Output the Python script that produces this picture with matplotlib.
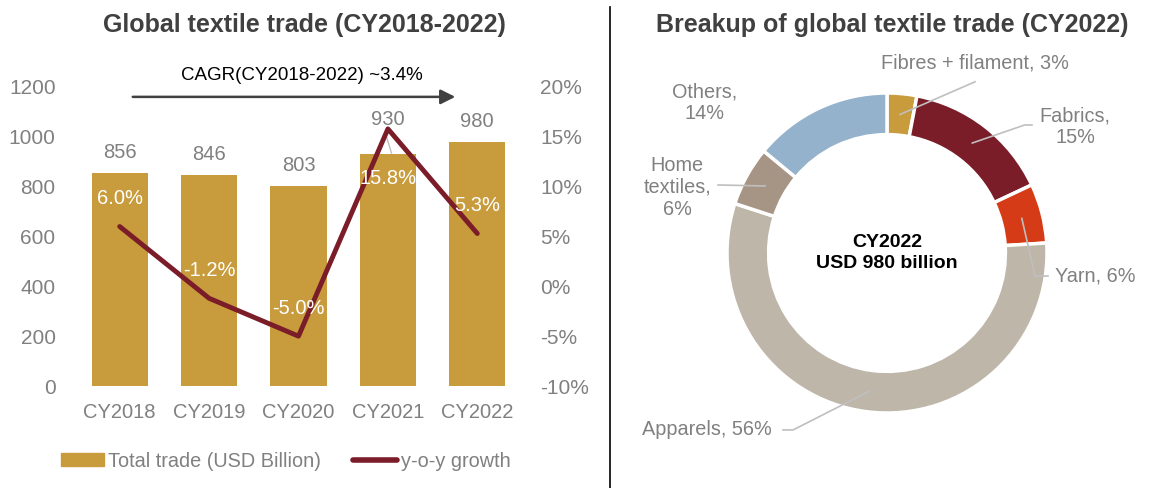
import numpy as np
import matplotlib
matplotlib.use("Agg")
from matplotlib import pyplot as plt
from matplotlib.lines import Line2D

plt.rcParams['font.family'] = ['Liberation Sans', 'DejaVu Sans']

# Datos
years = ['CY2018', 'CY2019', 'CY2020', 'CY2021', 'CY2022']
trade = [856, 846, 803, 930, 980]
growth = [6.0, -1.2, -5.0, 15.8, 5.3]

segments = ['Fibres + filament', 'Fabrics', 'Yarn', 'Apparels', 'Home\ntextiles', 'Others']
shares = [3, 15, 6, 56, 6, 14]

gold = '#C89B3C'
maroon = '#7B1C29'
gray = '#808080'
seg_colors = ['#C89B3C', '#7B1C29', '#D53B16', '#BFB6AA', '#A69584', '#94B2CC']

fig = plt.figure(figsize=(11.75, 4.88), dpi=100)

# ---- Grafico izquierdo: barras + linea ----
ax = fig.add_axes([75/1175, 102/488, 447/1175, 299/488])
x = np.arange(len(years))
ax.bar(x, trade, width=0.63, color=gold)
ax.set_xlim(-0.5, 4.5)
ax.set_ylim(0, 1200)
ax.set_yticks(range(0, 1201, 200))
ax.set_xticks(x)
ax.set_xticklabels(years)
ax.tick_params(axis='y', length=0, pad=14, labelsize=15, labelcolor=gray)
ax.tick_params(axis='x', length=0, pad=12, labelsize=14.5, labelcolor=gray)
for s in ax.spines.values():
    s.set_visible(False)

label_off = [8, 8, 8, 18, 8]
for xi, v, off in zip(x, trade, label_off):
    ax.annotate(str(v), (xi, v), xytext=(0, off), textcoords='offset points',
                ha='center', va='bottom', fontsize=14.5, color=gray)
# pequeña guia para 930
ax.plot([x[3] - 0.02, x[3] + 0.04], [trade[3] + 75, trade[3] + 5], color='#BFBFBF', lw=1)

ax2 = ax.twinx()
ax2.plot(x, growth, color=maroon, lw=3.5, solid_capstyle='round')
ax2.set_ylim(-10, 20)
ax2.set_yticks(range(-10, 21, 5))
ax2.set_yticklabels([f'{t}%' for t in range(-10, 21, 5)])
ax2.tick_params(axis='y', length=0, pad=13, labelsize=15, labelcolor=gray)
for s in ax2.spines.values():
    s.set_visible(False)

g_off = [20, 20, 20, -36, 20]
for xi, g, off in zip(x, growth, g_off):
    ax2.annotate(f'{g:.1f}%', (xi, g), xytext=(0, off), textcoords='offset points',
                 ha='center', va='center', fontsize=14.5, color='white')

ax.annotate('', xy=(0.857, 0.967), xytext=(0.123, 0.967), xycoords='axes fraction',
            arrowprops=dict(arrowstyle='-|>', color='#404040', lw=1.8, mutation_scale=22))
ax.text(0.508, 1.037, 'CAGR(CY2018-2022) ~3.4%', transform=ax.transAxes,
        ha='center', va='center', fontsize=13.5, color='black')

fig.text(0.259, 0.949, 'Global textile trade (CY2018-2022)', ha='center', va='center',
         fontsize=18, fontweight='bold', color='#404040')

handles = [plt.Rectangle((0, 0), 1, 1, color=gold),
           Line2D([0], [0], color=maroon, lw=4, solid_capstyle='round')]
leg = fig.legend(handles, ['Total trade (USD Billion)', 'y-o-y growth'],
                 loc='center', bbox_to_anchor=(0.243, 0.055), ncol=2, frameon=False,
                 fontsize=14.3, handlelength=2.2, handleheight=0.6, handletextpad=0.2,
                 columnspacing=1.6)
for t in leg.get_texts():
    t.set_color(gray)

# linea divisoria
fig.add_artist(Line2D([610/1175, 610/1175], [0, 0.985], color='black', lw=1.2))

# ---- Grafico derecho: dona ----
axp = fig.add_axes([(887 - 200)/1175, (235 - 200)/488, 400/1175, 400/488])
wedges, _ = axp.pie(shares, colors=seg_colors, startangle=90, counterclock=False,
                    wedgeprops=dict(width=0.26, edgecolor='white', linewidth=2.5))
axp.set_xlim(-1.25, 1.25)
axp.set_ylim(-1.25, 1.25)
axp.axis('off')

axp.text(0, 0, 'CY2022\nUSD 980 billion', ha='center', va='center', fontsize=14,
         fontweight='bold', color='black', linespacing=1.3)

# punto ancla de cada segmento (radio medio del anillo)
anchors = []
for w in wedges:
    ang = np.deg2rad((w.theta1 + w.theta2) / 2)
    anchors.append((0.87 * np.cos(ang), 0.87 * np.sin(ang)))

lc = '#BFBFBF'
fs = 14.3
lab = [f'{s}, {v}%' for s, v in zip(segments, shares)]
# Fibres
axp.plot([0.55, anchors[0][0]], [1.07, anchors[0][1]], color=lc, lw=1.2)
axp.text(0.55, 1.19, lab[0], ha='center', va='center', fontsize=fs, color=gray)
# Fabrics
axp.plot([0.906, 0.86, anchors[1][0]], [0.80, 0.80, anchors[1][1]], color=lc, lw=1.2)
axp.text(1.175, 0.79, 'Fabrics,\n15%', ha='center', va='center', fontsize=fs, color=gray)
# Yarn
axp.plot([1.006, 0.925, anchors[2][0]], [-0.144, -0.144, anchors[2][1]], color=lc, lw=1.2)
axp.text(1.05, -0.144, lab[2], ha='left', va='center', fontsize=fs, color=gray)
# Apparels
axp.plot([-0.65, -0.5875, anchors[3][0]], [-1.106, -1.106, anchors[3][1]], color=lc, lw=1.2)
axp.text(-0.72, -1.106, lab[3], ha='right', va='center', fontsize=fs, color=gray)
# Home textiles
axp.plot([-1.056, anchors[4][0]], [0.425, anchors[4][1]], color=lc, lw=1.2)
axp.text(-1.31, 0.41, 'Home\ntextiles,\n6%', ha='center', va='center', fontsize=fs,
         color=gray)
# Others
axp.text(-1.14, 0.94, 'Others,\n14%', ha='center', va='center', fontsize=fs, color=gray)

fig.text(0.759, 0.949, 'Breakup of global textile trade (CY2022)', ha='center',
         va='center', fontsize=18, fontweight='bold', color='#404040')

fig.savefig('out.png', dpi=100)
